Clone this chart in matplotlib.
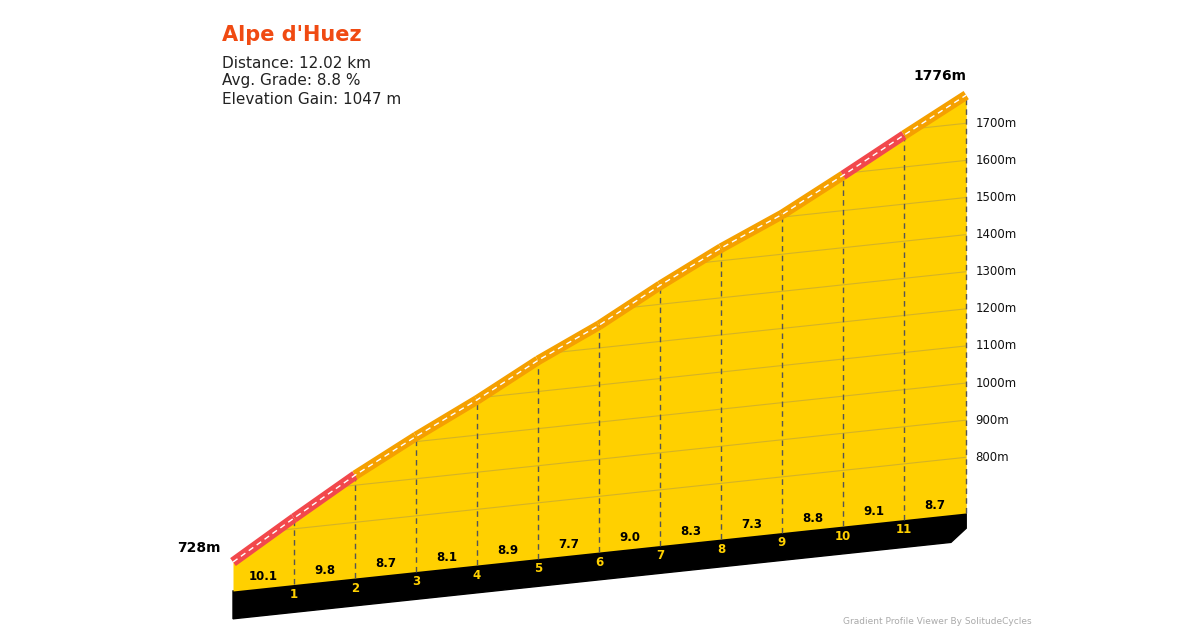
import matplotlib
matplotlib.use("Agg")
import matplotlib.pyplot as plt
import numpy as np
from matplotlib.patches import Polygon

km = [0, 1, 2, 3, 4, 5, 6, 7, 8, 9, 10, 11, 12.02]
elev = [728, 829, 927, 1014, 1095, 1184, 1261, 1351, 1434, 1507, 1595, 1686, 1776]
grades = [10.1, 9.8, 8.7, 8.1, 8.9, 7.7, 9.0, 8.3, 7.3, 8.8, 9.1, 8.7]
grid_levels = [800, 900, 1000, 1100, 1200, 1300, 1400, 1500, 1600, 1700]
title = "Alpe d'Huez"
stats = ["Distance: 12.02 km", "Avg. Grade: 8.8 %", "Elevation Gain: 1047 m"]

S = 17.5      # skew (m per km) for the pseudo-3D look
BASE = 650    # base elevation
BAND = 75     # black band thickness (m)
PXKM = 61.0
PXM = 0.3711
Y0 = 832.2

def sk(d, e):
    return e + S * np.asarray(d)

fig = plt.figure(figsize=(12, 6.3), dpi=100)
ax = fig.add_axes([0, 0, 1, 1])
ax.set_xlim(-233 / PXKM, (1200 - 233) / PXKM)
ax.set_ylim((Y0 - 630) / PXM, Y0 / PXM)
ax.axis("off")

d = np.array(km); e = np.array(elev)
top = sk(d, e)
base = sk(d, BASE)
# black band
band = Polygon([[0, sk(0, BASE)], [km[-1], sk(km[-1], BASE)],
                [km[-1], sk(km[-1], BASE - BAND * 0.3)], [0, sk(0, BASE - BAND)]],
               closed=True, color="black", zorder=1)
band = Polygon([[0, sk(0, BASE)], [km[-1], sk(km[-1], BASE)],
                [km[-1], sk(km[-1], BASE - BAND * 0.55)], [km[-1] - 0.25, sk(km[-1] - 0.25, BASE - BAND)],
                [0, sk(0, BASE - BAND)]], closed=True, color="black", zorder=1)
ax.add_patch(band)
fill = ax.fill_between(d, base, top, color="#FFD000", lw=0, zorder=2)
clip = Polygon(np.vstack([np.c_[d, top], np.c_[d[::-1], base[::-1]]]), closed=True,
               transform=ax.transData, visible=False)
ax.add_patch(clip)
for g in grid_levels:
    ln, = ax.plot([0, km[-1]], [sk(0, g), sk(km[-1], g)], color="#B8A040", lw=0.8, alpha=0.6, zorder=3)
    ln.set_clip_path(clip)
    ax.text(km[-1] + 0.15, sk(km[-1], g), f"{g}m", fontsize=8.5, va="center", ha="left", color="#111")
# vertical dashed lines
for i in range(1, len(km)):
    ax.plot([km[i], km[i]], [base[i], top[i]], color="#555", lw=1, ls=(0, (4, 3)), zorder=3)
# profile line
for i in range(len(grades)):
    c = "#F2484C" if grades[i] > 9.05 else "#F5A000"
    ax.plot(d[i:i + 2], top[i:i + 2], color=c, lw=7, solid_capstyle="butt", zorder=4)
ax.plot(d, top, color="white", lw=1, ls=(0, (4, 3)), zorder=5)
# grade labels
for i, g in enumerate(grades):
    m = (km[i] + km[i + 1]) / 2
    ax.text(m, sk(m, BASE) + 30, f"{g:.1f}", fontsize=8.5, fontweight="bold", ha="center", va="center", zorder=6)
for i in range(1, len(km) - 1):
    ax.text(km[i], sk(km[i], BASE) - 28, str(km[i]), fontsize=8.5, fontweight="bold",
            color="#FFD000", ha="center", va="center", zorder=6)
ax.text(-0.2, sk(0, elev[0]) + 38, f"{elev[0]}m", fontsize=10, fontweight="bold", ha="right", va="center")
ax.text(km[-1], sk(km[-1], elev[-1]) + 52, f"{elev[-1]}m", fontsize=10, fontweight="bold", ha="right", va="center")
fig.text(222 / 1200, 1 - 35 / 630, title, fontsize=15, fontweight="bold", color="#F04A12", va="center")
for j, s in enumerate(stats):
    fig.text(222 / 1200, 1 - (63 + j * 18) / 630, s, fontsize=11, color="#222", va="center")
fig.text(843 / 1200, 1 - 622 / 630, "Gradient Profile Viewer By SolitudeCycles", fontsize=6.5, color="#AAA", va="center")
fig.savefig("out.png", dpi=100)
